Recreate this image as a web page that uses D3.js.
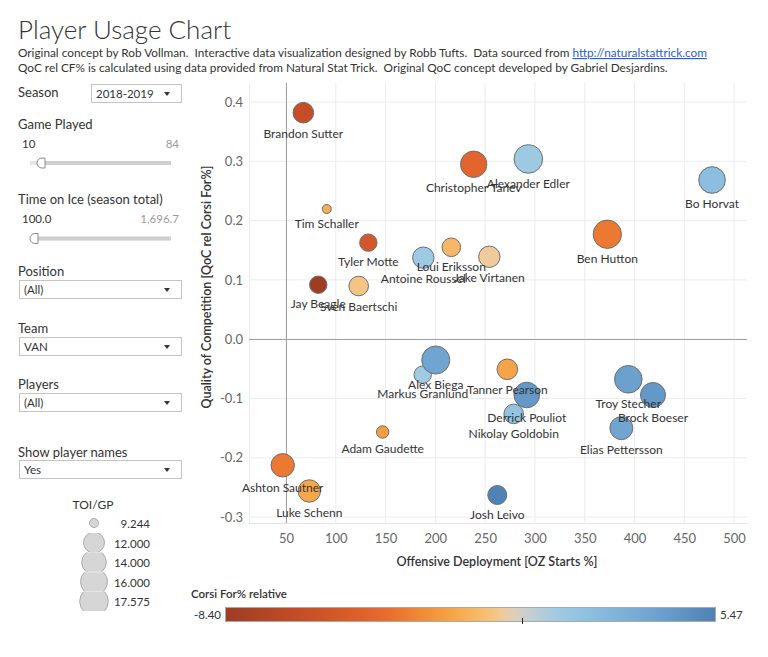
<!DOCTYPE html>
<html>
<head>
<meta charset="utf-8">
<script src="https://cdn.jsdelivr.net/npm/d3@7"></script>
<style>
body { margin: 0; background: #fff; }
svg { font-family: Lato, "Noto Sans", sans-serif; }
text { white-space: pre; }
</style>
</head>
<body>
<div id="chart"></div>
<script>
// players of VAN, 2018-2019
const players = ['Brandon Sutter', 'Christopher Tanev', 'Alexander Edler', 'Bo Horvat', 'Tim Schaller',
  'Tyler Motte', 'Loui Eriksson', 'Antoine Roussel', 'Jake Virtanen', 'Ben Hutton', 'Jay Beagle',
  'Sven Baertschi', 'Markus Granlund', 'Alex Biega', 'Tanner Pearson', 'Derrick Pouliot',
  'Nikolay Goldobin', 'Troy Stecher', 'Brock Boeser', 'Elias Pettersson', 'Adam Gaudette',
  'Ashton Sautner', 'Luke Schenn', 'Josh Leivo'];
const ozStarts = [67.4, 238.5, 293.4, 477.9, 90.9, 132.7, 216.0, 187.9, 254.2, 372.7, 82.4,
  123.0, 187.3, 200.4, 272.3, 291.8, 278.7, 393.8, 418.6, 386.8, 147.1, 46.7, 73.4, 262.2];
const qocRel = [0.382, 0.295, 0.304, 0.2685, 0.2196, 0.1628, 0.155, 0.1375, 0.139, 0.177, 0.0919,
  0.0897, -0.0599, -0.0351, -0.0508, -0.0941, -0.126, -0.0676, -0.0941, -0.150, -0.1565, -0.2127, -0.256, -0.2628];
const toiPerGp = [11.91, 15.5, 17.575, 15.67, 9.244, 11.17, 11.45, 12.22, 12.22, 17.3, 11.17,
  11.68, 11.17, 16.98, 11.91, 14.83, 11.68, 16.6, 14.33, 13.1, 10.02, 13.33, 12.78, 11.54];
const corsiRel = [-6.3, -4.3, 1.1, 2.0, -1.7, -5.3, -1.3, 1.1, -0.55, -3.4, -8.40,
  -0.8, 1.0, 3.6, -2.0, 4.3, 1.6, 3.9, 4.3, 3.6, -2.2, -3.4, -1.9, 5.47];

const xTicks = [50, 100, 150, 200, 250, 300, 350, 400, 450, 500];
const yTicks = [-0.3, -0.2, -0.1, 0.0, 0.1, 0.2, 0.3, 0.4];
const sizeLegendValues = [9.244, 12.000, 14.000, 16.000, 17.575];
const corsiExtent = [-8.40, 5.47];

// palette
const paletteStops = [-8.40, -6.65, -4.77, -3.82, -2.88, -1.94, -1.0, -0.52, 0, 0.89, 1.84, 3.72, 5.47];
const paletteColors = ['#9e3d22', '#bf4a26', '#db5e2a', '#e86c2e', '#f08a36', '#f6a64a', '#f6c073',
  '#eecc9e', '#d0d0cc', '#a2cbe2', '#8ec0e0', '#6fa3d0', '#4f82b5'];

const W = 768, H = 657;
const svg = d3.select('#chart').append('svg')
  .attr('width', W).attr('height', H);

const plot = { left: 249, right: 747, top: 83, bottom: 523 };

const x = d3.scaleLinear().domain([12.84, 513.0]).range([plot.left, plot.right]);
const y = d3.scaleLinear().domain([0.4321, -0.310]).range([plot.top, plot.bottom]);
const r = d3.scaleLinear().domain(sizeLegendValues).range([5, 11, 12.8, 14, 14.8]).clamp(true);
const color = d3.scaleLinear().domain(paletteStops).range(paletteColors);

// ---- header
svg.append('text').attr('x', 18).attr('y', 39)
  .attr('font-size', 26).attr('font-weight', 300).attr('fill', '#333')
  .text('Player Usage Chart');
const sub = svg.append('text').attr('x', 18).attr('y', 57)
  .attr('font-size', 11.8).attr('fill', '#333');
sub.append('tspan').text('Original concept by Rob Vollman.  Interactive data visualization designed by Robb Tufts.  Data sourced from ');
sub.append('tspan').attr('fill', '#2a62c9').attr('text-decoration', 'underline').text('http://naturalstattrick.com');
svg.append('text').attr('x', 18).attr('y', 72)
  .attr('font-size', 11.8).attr('fill', '#333')
  .text('QoC rel CF% is calculated using data provided from Natural Stat Trick.  Original QoC concept developed by Gabriel Desjardins.');

// ---- filter panel
const panel = svg.append('g').attr('font-size', 13).attr('fill', '#333');
function label(txt, yy) {
  panel.append('text').attr('x', 18).attr('y', yy).attr('dy', '0.35em').text(txt);
}
function dropdown(x0, y0, w, txt) {
  const g = panel.append('g');
  g.append('rect').attr('x', x0 + 0.5).attr('y', y0 + 0.5).attr('width', w).attr('height', 18)
    .attr('fill', '#fff').attr('stroke', '#c4c4c4');
  g.append('text').attr('x', x0 + 5).attr('y', y0 + 9.5).attr('dy', '0.35em')
    .attr('font-size', 11.5).attr('fill', '#333').text(txt);
  const tx = x0 + w - 14, ty = y0 + 8;
  g.append('path').attr('d', `M${tx - 3},${ty} L${tx + 3},${ty} L${tx},${ty + 4} Z`).attr('fill', '#333');
}
function slider(yy, lo, hi, handleX) {
  panel.append('text').attr('x', 22).attr('y', yy - 19.5).attr('dy', '0.35em')
    .attr('font-size', 11.5).attr('fill', '#333').text(lo);
  panel.append('text').attr('x', 179).attr('y', yy - 19.5).attr('dy', '0.35em')
    .attr('text-anchor', 'end').attr('font-size', 11.5).attr('fill', '#999').text(hi);
  panel.append('rect').attr('x', 30).attr('y', yy - 2).attr('width', 141).attr('height', 4).attr('fill', '#e6e6e6');
  panel.append('rect').attr('x', handleX).attr('y', yy - 2).attr('width', 171 - handleX).attr('height', 4).attr('fill', '#cfcfcf');
  const hx = handleX;
  panel.append('path')
    .attr('d', `M${hx + 8},${yy - 5} L${hx + 5},${yy - 5} A5,5 0 0 0 ${hx + 5},${yy + 5} L${hx + 8},${yy + 5} Z`)
    .attr('fill', '#fff').attr('stroke', '#8a8a8a').attr('stroke-width', 1);
}
label('Season', 92);
dropdown(91, 84, 90, '2018-2019');
label('Game Played', 124);
slider(163, '10', '84', 37);
label('Time on Ice (season total)', 199);
slider(238.5, '100.0', '1,696.7', 30);
label('Position', 271);
dropdown(19, 280, 162, '(All)');
label('Team', 328);
dropdown(19, 337, 162, 'VAN');
label('Players', 384);
dropdown(19, 393, 162, '(All)');
label('Show player names', 452);
dropdown(19, 460, 162, 'Yes');

// ---- size legend
const sl = svg.append('g');
sl.append('text').attr('x', 93).attr('y', 505).attr('dy', '0.35em')
  .attr('text-anchor', 'middle').attr('font-size', 12).attr('fill', '#333').text('TOI/GP');
const defs = svg.append('defs');
sizeLegendValues.forEach((v, i) => {
  const cy = 523 + i * 19.6;
  defs.append('clipPath').attr('id', 'sz' + i)
    .append('rect').attr('x', 60).attr('y', cy - 9.6).attr('width', 70).attr('height', 19.2);
  sl.append('circle').attr('cx', 94).attr('cy', cy).attr('r', r(v) - 0.5)
    .attr('clip-path', `url(#sz${i})`)
    .attr('fill', '#d6d6d6').attr('stroke', '#ababab').attr('stroke-width', 1);
  sl.append('text').attr('x', 150).attr('y', cy + 1).attr('dy', '0.35em')
    .attr('text-anchor', 'end').attr('font-size', 11.5).attr('fill', '#333')
    .text(v.toFixed(3));
});

// ---- grid
const grid = svg.append('g');
grid.selectAll('.gx').data(xTicks).enter().append('line')
  .attr('x1', d => x(d)).attr('x2', d => x(d))
  .attr('y1', plot.top).attr('y2', plot.bottom)
  .attr('stroke', '#ececec');
grid.selectAll('.gy').data(yTicks).enter().append('line')
  .attr('x1', plot.left).attr('x2', plot.right)
  .attr('y1', d => y(d)).attr('y2', d => y(d))
  .attr('stroke', '#ececec');
grid.append('line').attr('x1', plot.left + 0.5).attr('x2', plot.left + 0.5)
  .attr('y1', plot.top).attr('y2', plot.bottom).attr('stroke', '#ececec');
grid.append('line').attr('x1', plot.left).attr('x2', plot.right)
  .attr('y1', plot.bottom + 0.5).attr('y2', plot.bottom + 0.5).attr('stroke', '#e4e4e4');

// reference lines
svg.append('line').attr('x1', plot.left).attr('x2', plot.right)
  .attr('y1', Math.round(y(0)) + 0.5).attr('y2', Math.round(y(0)) + 0.5).attr('stroke', '#a0a0a0');
svg.append('line').attr('x1', Math.round(x(50)) + 0.5).attr('x2', Math.round(x(50)) + 0.5)
  .attr('y1', plot.top).attr('y2', plot.bottom).attr('stroke', '#a0a0a0');

// ---- axes
const xAxis = svg.append('g').attr('transform', `translate(0,${plot.bottom})`)
  .call(d3.axisBottom(x).tickValues(xTicks).tickSize(0).tickPadding(11));
const yAxis = svg.append('g').attr('transform', `translate(${plot.left},0)`)
  .call(d3.axisLeft(y).tickValues(yTicks).tickSize(0).tickPadding(6).tickFormat(d => d.toFixed(1)));
[xAxis, yAxis].forEach(a => {
  a.select('.domain').remove();
  a.selectAll('text').attr('font-size', 13).attr('fill', '#666').attr('font-family', 'Lato, sans-serif');
});

svg.append('text').attr('x', 497).attr('y', 562).attr('dy', '0.35em')
  .attr('text-anchor', 'middle').attr('font-size', 12.5).attr('font-weight', 600).attr('fill', '#333')
  .text('Offensive Deployment [OZ Starts %]');
svg.append('text').attr('transform', 'translate(207,287) rotate(-90)').attr('dy', '0.35em')
  .attr('text-anchor', 'middle').attr('font-size', 12.5).attr('font-weight', 600).attr('fill', '#333')
  .text('Quality of Competition [QoC rel Corsi For%]');

// ---- marks
const data = players.map((name, i) => ({
  name, oz: ozStarts[i], qoc: qocRel[i], toi: toiPerGp[i], cf: corsiRel[i]
}));
svg.append('g').selectAll('circle').data(data).enter().append('circle')
  .attr('cx', d => x(d.oz)).attr('cy', d => y(d.qoc))
  .attr('r', d => r(d.toi) - 0.5)
  .attr('fill', d => color(d.cf))
  .attr('stroke', '#6e6e6e').attr('stroke-width', 1);
svg.append('g').selectAll('text').data(data).enter().append('text')
  .attr('x', d => x(d.oz)).attr('y', d => y(d.qoc) + r(d.toi) + 10)
  .attr('dy', '0.35em').attr('text-anchor', 'middle')
  .attr('font-size', 12).attr('fill', '#333')
  .text(d => d.name);

// ---- colour legend
svg.append('text').attr('x', 191).attr('y', 594).attr('dy', '0.35em')
  .attr('font-size', 11.5).attr('font-weight', 600).attr('fill', '#333').text('Corsi For% relative');
const cx0 = 225, cx1 = 715;
const cScale = d3.scaleLinear().domain(corsiExtent).range([cx0, cx1]);
const grad = defs.append('linearGradient').attr('id', 'cgrad');
d3.range(0, 1.0001, 0.02).forEach(t => {
  grad.append('stop').attr('offset', t)
    .attr('stop-color', color(corsiExtent[0] + t * (corsiExtent[1] - corsiExtent[0])));
});
svg.append('rect').attr('x', cx0 + 0.5).attr('y', 607.5).attr('width', cx1 - cx0).attr('height', 14)
  .attr('fill', 'url(#cgrad)').attr('stroke', '#a9a9a9');
svg.append('line').attr('x1', Math.round(cScale(0)) + 0.5).attr('x2', Math.round(cScale(0)) + 0.5)
  .attr('y1', 618).attr('y2', 624).attr('stroke', '#222');
svg.append('text').attr('x', cx0 - 4).attr('y', 614.5).attr('dy', '0.35em')
  .attr('text-anchor', 'end').attr('font-size', 11.5).attr('fill', '#333').text(corsiExtent[0].toFixed(2));
svg.append('text').attr('x', cx1 + 5).attr('y', 614.5).attr('dy', '0.35em')
  .attr('font-size', 11.5).attr('fill', '#333').text(corsiExtent[1].toFixed(2));
</script>
</body>
</html>
